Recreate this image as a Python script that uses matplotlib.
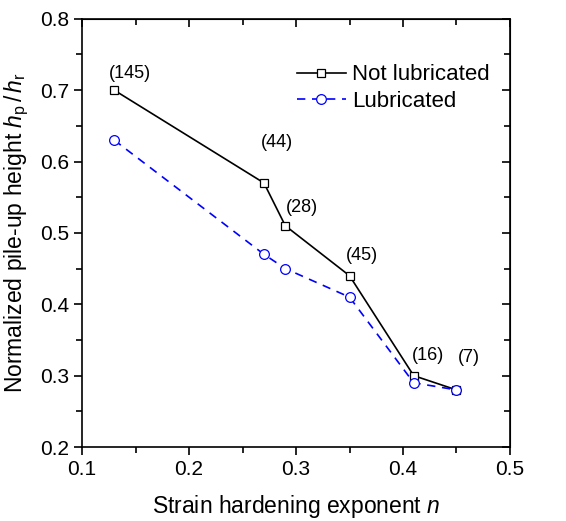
import numpy as np
import matplotlib.pyplot as plt
from matplotlib.ticker import MultipleLocator

plt.rcParams['font.family'] = ['Liberation Sans', 'DejaVu Sans']
plt.rcParams['mathtext.fontset'] = 'custom'
plt.rcParams['mathtext.it'] = 'Liberation Sans:italic'
plt.rcParams['mathtext.rm'] = 'Liberation Sans'

# data
n_vals = [0.13, 0.27, 0.29, 0.35, 0.41, 0.45]
not_lub = [0.70, 0.57, 0.51, 0.44, 0.30, 0.28]
lub = [0.63, 0.47, 0.45, 0.41, 0.29, 0.28]
counts = ["(145)", "(44)", "(28)", "(45)", "(16)", "(7)"]
label_x = [0.145, 0.282, 0.306, 0.362, 0.423, 0.462]
label_y = [0.724, 0.626, 0.535, 0.468, 0.328, 0.326]

fig = plt.figure(figsize=(5.66, 5.21), dpi=100)
ax = fig.add_axes([0.145, 0.142, 0.756, 0.822])

ax.plot(n_vals, not_lub, color='black', lw=1.2, marker='s', ms=6,
        mfc='white', mec='black', mew=0.9, label='Not lubricated')
ax.plot(n_vals, lub, color='blue', lw=1.2, ls=(0, (5, 4)), marker='o', ms=7,
        mfc='white', mec='blue', mew=0.9, label='Lubricated')

for x, y, t in zip(label_x, label_y, counts):
    ax.text(x, y, t, ha='center', va='center', fontsize=13)

ax.set_xlim(0.1, 0.5)
ax.set_ylim(0.2, 0.8)
ax.xaxis.set_major_locator(MultipleLocator(0.1))
ax.xaxis.set_minor_locator(MultipleLocator(0.05))
ax.yaxis.set_major_locator(MultipleLocator(0.1))
ax.yaxis.set_minor_locator(MultipleLocator(0.05))
ax.tick_params(which='both', direction='out', top=False, right=False,
               labelsize=15, width=1.2)
ax.tick_params(which='major', length=6)
ax.tick_params(which='minor', length=4)
for s in ax.spines.values():
    s.set_linewidth(1.2)

# inward ticks on top and right
sec_x = ax.secondary_xaxis('top')
sec_x.xaxis.set_major_locator(MultipleLocator(0.1))
sec_x.xaxis.set_minor_locator(MultipleLocator(0.05))
sec_x.tick_params(which='both', direction='in', labeltop=False, width=1.2)
sec_x.tick_params(which='major', length=6)
sec_x.tick_params(which='minor', length=4)
sec_y = ax.secondary_yaxis('right')
sec_y.yaxis.set_major_locator(MultipleLocator(0.1))
sec_y.yaxis.set_minor_locator(MultipleLocator(0.05))
sec_y.tick_params(which='both', direction='in', labelright=False, width=1.2)
sec_y.tick_params(which='major', length=6)
sec_y.tick_params(which='minor', length=4)

ax.set_xlabel('Strain hardening exponent $n$', fontsize=16.5, labelpad=10)
ax.set_ylabel('Normalized pile-up height $h_\\mathrm{p}\\,/\\,h_\\mathrm{r}$',
              fontsize=16.5, labelpad=6)

ax.legend(loc='upper right', bbox_to_anchor=(1.0, 0.94), frameon=False,
          fontsize=16, handlelength=2.2, handletextpad=0.3, labelspacing=0.25)

fig.savefig('out.png', dpi=100)
